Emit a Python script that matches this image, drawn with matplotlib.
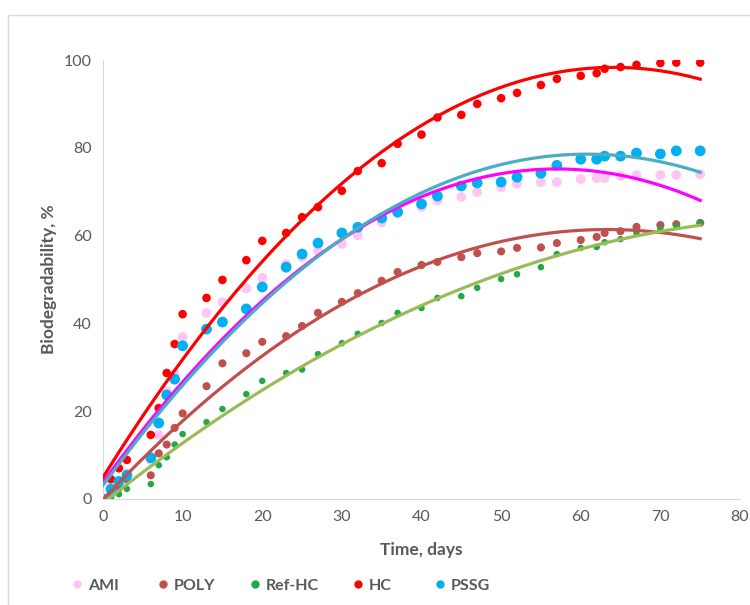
import matplotlib.pyplot as plt
import numpy as np
from matplotlib.lines import Line2D
from matplotlib.patches import Rectangle

plt.rcParams['font.family'] = ['Lato', 'DejaVu Sans']

# sampling days (shared by all series)
days = [0, 1, 2, 3, 6, 7, 8, 9, 10, 13, 15, 18, 20, 23, 25, 27, 30, 32, 35, 37,
        40, 42, 45, 47, 50, 52, 55, 57, 60, 62, 63, 65, 67, 70, 72, 75]

ami = [0, 2, 4, 5.9, 8.9, 14.6, 24.5, 28.5, 36.9, 42.4, 44.8, 48, 50.4, 53.5, 55.1, 56.5, 58.1, 60.1, 63.0, 65,
       66.5, 68, 68.8, 69.9, 71, 71.8, 72.2, 72.2, 72.9, 73.1, 73.1, 73.6, 73.8, 73.8, 73.8, 74]
poly = [0, 1, 2.5, 4.5, 5.4, 10.4, 12.4, 16.2, 19.5, 25.7, 30.9, 33.2, 35.8, 37.1, 39.4, 42.4, 44.9, 46.9, 49.7, 51.7,
        53.3, 54, 55.1, 56, 56.4, 57.2, 57.3, 58.3, 59, 59.7, 60.6, 61, 62, 62.4, 62.6, 62.9]
ref_hc = [0, 0.3, 1.1, 2.3, 3.4, 7.7, 9.5, 12.4, 14.8, 17.5, 20.5, 23.9, 26.9, 28.7, 29.5, 33, 35.5, 37.6, 40.1, 42.4,
          43.5, 45.8, 46.2, 48.1, 50.1, 51.2, 52.8, 55.8, 57.2, 57.4, 58.5, 59.2, 60.6, 61.5, 62.2, 62.9]
hc = [0, 4.5, 7, 8.9, 14.6, 20.7, 28.7, 35.3, 42.1, 45.8, 49.9, 54.4, 58.8, 60.6, 64.2, 66.5, 70.2, 74.7, 76.5, 80.9,
      83, 86.9, 87.5, 90, 91.3, 92.5, 94.3, 95.7, 96.4, 97, 98, 98.4, 98.9, 99.3, 99.4, 99.4]
pssg = [0, 2.3, 4, 5.4, 9.4, 17.3, 23.7, 27.3, 34.9, 38.7, 40.3, 43.3, 48.3, 52.8, 55.8, 58.3, 60.6, 61.9, 64, 65.4,
        67.2, 69, 71.3, 72, 72.2, 73.3, 74.2, 76, 77.4, 77.4, 78.1, 78.1, 78.8, 78.6, 79.3, 79.3]

labels = ['AMI', 'POLY', 'Ref-HC', 'HC', 'PSSG']
series = [ami, poly, ref_hc, hc, pssg]
dot_colors = ['#FFC6F4', '#C0504D', '#22A846', '#FF0000', '#00B0F0']
line_colors = ['#FF00FF', '#C0504D', '#9BBB59', '#FF0000', '#4BACC6']
dot_sizes = [50, 34, 22, 38, 60]

fig = plt.figure(figsize=(7.5, 6.05), dpi=100)
ax = fig.add_axes([103 / 750, 1 - 499 / 605, 637 / 750, 439 / 605])

# light outer frame like the Excel chart area
fig.patches.append(Rectangle((8 / 750, -0.05), 1.1, 1 - 15 / 605 + 0.05,
                             transform=fig.transFigure, fill=False,
                             edgecolor='#D9D9D9', linewidth=1))

x = np.array(days, dtype=float)
xs = np.linspace(0, 75, 200)
for vals, dc, size in zip(series, dot_colors, dot_sizes):
    ax.scatter(x, vals, s=size, color=dc, edgecolors='none', zorder=2)

# 2nd order polynomial trendlines (as in Excel)
for vals, lc in zip(series, line_colors):
    coef = np.polyfit(x, vals, 2)
    ax.plot(xs, np.polyval(coef, xs), color=lc, linewidth=2.3, zorder=3)

ax.set_xlim(0, 80)
ax.set_ylim(0, 100)
ax.set_xticks(range(0, 81, 10))
ax.set_yticks(range(0, 101, 20))
ax.tick_params(length=0, labelsize=11.5, labelcolor='#595959', pad=8)
for side in ['top', 'right']:
    ax.spines[side].set_visible(False)
for side in ['left', 'bottom']:
    ax.spines[side].set_color('#D9D9D9')
ax.set_xlabel('Time, days', fontsize=12.5, fontweight='bold', color='#595959', labelpad=13)
ax.set_ylabel('Biodegradability, %', fontsize=12.5, fontweight='bold', color='#595959', labelpad=5)

# legend entries placed one by one, like the Excel legend spacing
legend_px = [77, 163, 255, 358, 440]
for lab, c, px in zip(labels, dot_colors, legend_px):
    h = Line2D([], [], linestyle='none', marker='o', markersize=6,
               markerfacecolor=c, markeredgecolor='none')
    fig.legend([h], [lab], loc='center left', bbox_to_anchor=((px - 8) / 750, 1 - 586 / 605),
               frameon=False, handletextpad=0.2, handlelength=1, borderpad=0, borderaxespad=0,
               prop={'weight': 'bold', 'size': 11.5}, labelcolor='#595959')

plt.savefig('out.png')
plt.close()
